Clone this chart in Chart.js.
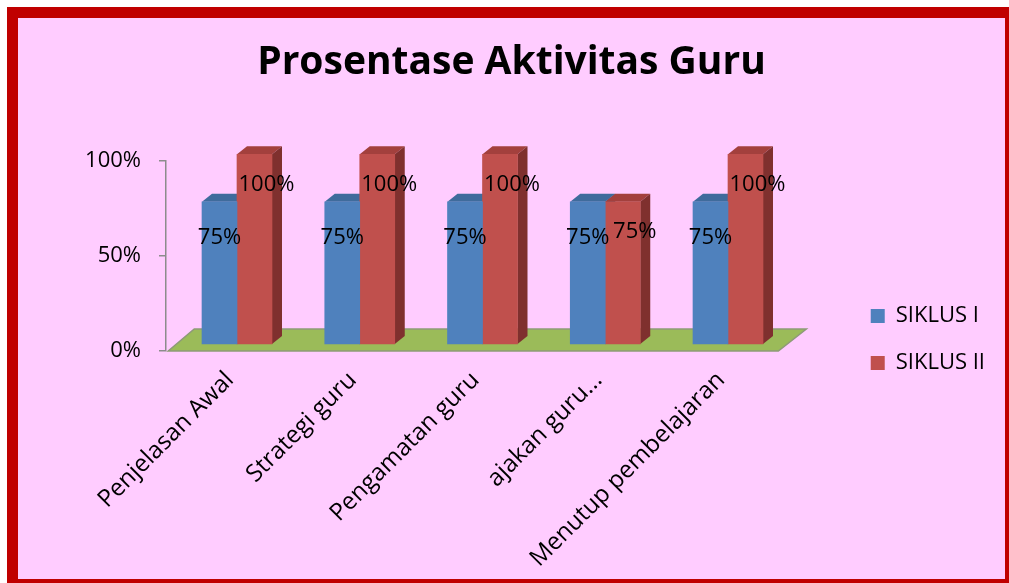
<!DOCTYPE html>
<html>
<head>
<meta charset="utf-8">
<script src="https://cdn.jsdelivr.net/npm/chart.js@4/dist/chart.umd.min.js"></script>
<style>
html,body{margin:0;padding:0;background:#fff;}
#wrap{width:1009px;height:583px;position:relative;}
canvas{display:block;}
</style>
</head>
<body>
<div id="wrap"><canvas id="c" width="1009" height="583"></canvas></div>
<script>
// ---- data ----
const categories = ['Penjelasan Awal', 'Strategi guru', 'Pengamatan guru', 'ajakan guru...', 'Menutup pembelajaran'];
const seriesNames = ['SIKLUS I', 'SIKLUS II'];
const siklus1 = [75, 75, 75, 75, 75];
const siklus2 = [100, 100, 100, 75, 100];
const yTickValues = [0, 50, 100];
const chartTitle = 'Prosentase Aktivitas Guru';

// ---- styling ----
const FONT = "'Open Sans', sans-serif";
const frontColors = ['#4F81BD', '#C0504D'];
const topColors = ['#3F6B9C', '#A3403D'];
const sideColors = ['#2F5683', '#7F302E'];
const DX = 10, DY = -8;          // 3D depth of bars
const STEP = 122.75;             // px per category
const FIRST = 237;               // px of first category centre
const LEGEND_BOTTOM = 399;

const plugin3d = {
  id: 'bars3d',
  afterLayout(chart) {
    const xs = chart.scales.x;
    const p0 = xs.getPixelForValue(xs.min), p1 = xs.getPixelForValue(xs.max);
    const newMin = -(FIRST - p0) / STEP;
    xs.min = newMin;
    xs.max = newMin + (p1 - p0) / STEP;
    xs.configure();
    const lg = chart.legend;
    if (lg) { lg.bottom = LEGEND_BOTTOM; lg.top = LEGEND_BOTTOM - lg.height; }
  },
  beforeDraw(chart) {
    const ctx = chart.ctx;
    ctx.save();
    ctx.fillStyle = '#ffffff';
    ctx.fillRect(0, 0, chart.width, chart.height);
    ctx.fillStyle = '#FFCCFF';
    ctx.fillRect(12.5, 12.5, 998, 572);
    ctx.strokeStyle = '#C00000';
    ctx.lineWidth = 11;
    ctx.strokeRect(12.5, 12.5, 998, 572);
    ctx.restore();
  },
  beforeDatasetsDraw(chart) {
    const ctx = chart.ctx;
    const ca = chart.chartArea;
    const xs = chart.scales.x;
    const fl = xs.getPixelForValue(-0.56), fr = xs.getPixelForValue(4.41), fy = ca.bottom;
    ctx.save();
    ctx.beginPath();
    ctx.moveTo(fl, fy);
    ctx.lineTo(fr, fy);
    ctx.lineTo(fr + 28, fy - 22);
    ctx.lineTo(fl + 26, fy - 22);
    ctx.closePath();
    ctx.fillStyle = '#9BBB59';
    ctx.fill();
    ctx.lineWidth = 1.5;
    ctx.strokeStyle = '#8E9A78';
    ctx.stroke();
    const poly = (pts, color) => {
      ctx.beginPath();
      ctx.moveTo(pts[0][0], pts[0][1]);
      for (let k = 1; k < pts.length; k++) ctx.lineTo(pts[k][0], pts[k][1]);
      ctx.closePath();
      ctx.fillStyle = color;
      ctx.fill();
    };
    chart.data.datasets.forEach((ds, di) => {
      const meta = chart.getDatasetMeta(di);
      meta.data.forEach(bar => {
        const p = bar.getProps(['x', 'y', 'base', 'width'], true);
        const l = p.x - p.width / 2, r = p.x + p.width / 2;
        poly([[l, p.y], [r, p.y], [r + DX, p.y + DY], [l + DX, p.y + DY]], topColors[di]);
        poly([[r, p.y], [r + DX, p.y + DY], [r + DX, p.base + DY], [r, p.base]], sideColors[di]);
      });
    });
    ctx.restore();
  },
  afterDatasetsDraw(chart) {
    const ctx = chart.ctx;
    ctx.save();
    ctx.font = "22px " + FONT;
    ctx.fillStyle = '#000';
    ctx.textAlign = 'center';
    ctx.textBaseline = 'middle';
    chart.data.datasets.forEach((ds, di) => {
      const meta = chart.getDatasetMeta(di);
      meta.data.forEach((bar, i) => {
        const v = ds.data[i].y;
        ctx.fillText(v + '%', bar.x + (di ? 12 : 0), bar.y + (di ? 30 : 36));
      });
    });
    ctx.restore();
  }
};

const mk = arr => categories.map((c, i) => ({x: i, y: arr[i]}));

Chart.defaults.color = '#000';
Chart.defaults.font.family = FONT;

new Chart(document.getElementById('c'), {
  type: 'bar',
  data: {
    datasets: [
      {label: seriesNames[0], data: mk(siklus1), backgroundColor: frontColors[0], borderWidth: 0, barThickness: 35, yAxisID: 'yd', clip: false},
      {label: seriesNames[1], data: mk(siklus2), backgroundColor: frontColors[1], borderWidth: 0, barThickness: 35, yAxisID: 'yd', clip: false}
    ]
  },
  options: {
    responsive: false,
    animation: false,
    layout: {padding: {left: 28, right: 14, top: 0, bottom: 4}},
    plugins: {
      title: {
        display: true, text: chartTitle, color: '#000',
        font: {family: "'Open Sans', sans-serif", size: 39, weight: 'bold', lineHeight: 1.2},
        padding: {top: 39.6, bottom: 74}
      },
      legend: {
        position: 'right', align: 'end', fullSize: false,
        labels: {font: {family: FONT, size: 22}, color: '#000', boxWidth: 14, boxHeight: 14, padding: 25}
      },
      tooltip: {enabled: false}
    },
    scales: {
      x: {
        type: 'linear',
        min: -0.578,
        max: 4.95,
        grid: {display: false},
        border: {display: false},
        afterBuildTicks: s => { s.ticks = categories.map((c, i) => ({value: i})); },
        afterFit: s => { s.height = 228; s.paddingLeft = 0; s.paddingRight = 0; },
        ticks: {
          autoSkip: false, minRotation: 45, maxRotation: 45, padding: 7, labelOffset: -7,
          font: {family: FONT, size: 24}, color: '#000',
          callback: v => categories[v]
        }
      },
      y: {
        position: 'left', min: 0, max: 100,
        afterFit: s => { s.width = 138; },
        afterBuildTicks: s => { s.ticks = yTickValues.map(v => ({value: v})); },
        ticks: {font: {family: FONT, size: 22}, color: '#000', padding: 18, callback: v => v + '%'},
        grid: {drawOnChartArea: false, drawTicks: true, tickLength: 7, color: '#8C8C8C', lineWidth: 1.5},
        border: {display: true, color: '#8C8C8C', width: 1.5}
      },
      yd: {position: 'left', display: false, min: -3.7, max: 96.8}
    }
  },
  plugins: [plugin3d]
});
</script>
</body>
</html>
